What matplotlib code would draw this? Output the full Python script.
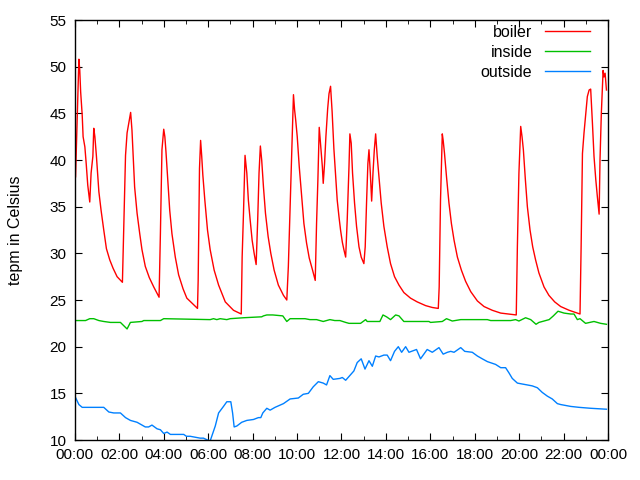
import matplotlib
matplotlib.use("Agg")
import matplotlib.pyplot as plt
from matplotlib.ticker import MultipleLocator, FuncFormatter

plt.rcParams['font.family'] = ['Liberation Sans', 'DejaVu Sans']

# hours since midnight, temperature
boiler_t = [0.03, 0.1, 0.18, 0.22, 0.26, 0.33, 0.37, 0.45, 0.51, 0.58, 0.67, 0.73, 0.81, 0.85, 0.9,
            0.97, 1.08, 1.18, 1.30, 1.42, 1.57, 1.72, 1.90, 2.14, 2.20, 2.28, 2.35, 2.44, 2.51,
            2.57, 2.62, 2.69, 2.80, 2.92, 3.02, 3.17, 3.35, 3.55, 3.79, 3.85, 3.92, 4.00, 4.05,
            4.10, 4.18, 4.27, 4.37, 4.52, 4.67, 4.87, 5.04, 5.52, 5.55, 5.61, 5.66, 5.71, 5.76,
            5.85, 5.97, 6.09, 6.27, 6.47, 6.77, 7.14, 7.49, 7.53, 7.59, 7.66, 7.74, 7.81, 7.89,
            7.98, 8.07, 8.16, 8.23, 8.29, 8.35, 8.41, 8.49, 8.58, 8.70, 8.82, 8.97, 9.16, 9.39,
            9.54, 9.61, 9.69, 9.76, 9.84, 9.89, 9.94, 10.01, 10.10, 10.21, 10.31, 10.43, 10.55,
            10.70, 10.82, 10.88, 10.94, 11.00, 11.07, 11.14, 11.18, 11.24, 11.30, 11.38, 11.44,
            11.51, 11.58, 11.66, 11.74, 11.81, 11.89, 11.96, 12.04, 12.11, 12.19, 12.26, 12.34,
            12.38, 12.44, 12.50, 12.59, 12.68, 12.79, 12.89, 13.01, 13.07, 13.13, 13.19, 13.24,
            13.30, 13.36, 13.42, 13.48, 13.54, 13.61, 13.70, 13.79, 13.91, 14.06, 14.21, 14.39,
            14.59, 14.81, 15.11, 15.41, 15.79, 16.09, 16.36, 16.40, 16.46, 16.54, 16.58, 16.64,
            16.73, 16.84, 16.95, 17.07, 17.22, 17.40, 17.59, 17.82, 18.12, 18.42, 18.79, 19.17,
            19.87, 19.92, 19.99, 20.07, 20.13, 20.19, 20.28, 20.37, 20.49, 20.61, 20.74, 20.89,
            21.12, 21.34, 21.60, 21.87, 22.25, 22.74, 22.79, 22.85, 22.92, 23.00, 23.07, 23.15,
            23.22, 23.30, 23.37, 23.45, 23.52, 23.60, 23.64, 23.70, 23.78, 23.82, 23.87, 23.93]
boiler_v = [38.2, 44.0, 50.8, 49.6, 47.3, 44.8, 42.5, 41.4, 39.6, 37.3, 35.5, 38.6, 40.4, 43.4, 42.5,
            40.4, 36.6, 34.6, 32.5, 30.5, 29.3, 28.4, 27.5, 26.9, 32.7, 40.5, 42.9, 44.1, 45.1,
            43.2, 40.7, 37.1, 34.3, 32.1, 30.4, 28.6, 27.4, 26.4, 25.3, 32.1, 41.1, 43.3, 42.5,
            40.9, 37.9, 34.6, 32.1, 29.6, 27.7, 26.2, 25.2, 24.1, 27.1, 39.1, 42.1, 40.4, 38.4,
            35.7, 32.5, 30.4, 28.2, 26.6, 24.8, 23.9, 23.5, 29.6, 34.3, 40.5, 38.6, 35.7, 33.6,
            31.4, 30.0, 28.8, 33.6, 38.6, 41.5, 40.0, 37.1, 34.3, 31.8, 30.0, 28.2, 26.6, 25.5,
            25.0, 28.6, 35.0, 40.5, 47.0, 45.4, 44.3, 42.5, 39.3, 36.1, 33.2, 31.1, 29.5,
            28.2, 27.1, 33.2, 37.9, 43.5, 41.4, 39.3, 37.5, 39.6, 42.5, 45.5, 47.1,
            47.9, 45.2, 41.2, 38.2, 35.7, 33.9, 32.5, 31.2, 30.4, 29.6, 33.6, 39.3,
            42.8, 41.8, 38.6, 35.4, 32.9, 30.7, 29.6, 28.9, 30.7, 35.4, 39.6, 41.1,
            38.6, 35.6, 38.6, 41.1, 42.8, 40.4, 37.9, 35.4, 32.9, 30.7, 28.9, 27.5,
            26.6, 25.8, 25.2, 24.8, 24.4, 24.2, 24.1, 26.4, 35.7, 42.8, 42.1, 40.7,
            38.2, 35.4, 33.2, 31.4, 29.6, 28.2, 27.0, 25.9, 24.9, 24.3, 23.9, 23.6,
            23.4, 30.7, 38.6, 43.6, 42.5, 41.1, 37.9, 35.0, 32.5, 30.7, 29.3, 27.9,
            26.4, 25.5, 24.8, 24.3, 23.9, 23.5, 30.7, 40.7, 42.9, 45.0, 46.8, 47.5,
            47.6, 43.9, 40.4, 37.9, 36.1, 34.2, 40.0, 45.0, 49.6, 48.9, 49.3, 47.5]

inside_t = [0.0, 0.48, 0.67, 0.85, 1.08, 1.30, 1.60, 2.05, 2.35, 2.50, 3.02, 3.10, 3.85, 4.00,
            6.09, 6.24, 6.39, 6.54, 6.84, 6.99, 7.59, 8.41, 8.49, 8.64, 8.91, 9.36, 9.54, 9.69,
            10.36, 10.58, 10.88, 11.18, 11.48, 11.70, 11.93,
            12.19, 12.34, 12.86, 13.09, 13.16, 13.73, 13.87, 14.03, 14.21, 14.44, 14.59, 14.81,
            15.94, 16.01, 16.54, 16.73, 16.99, 17.37, 17.82, 18.57, 18.72, 19.62, 19.84, 19.99,
            20.29, 20.52, 20.76, 20.89, 21.35, 21.54, 21.75, 22.02, 22.32, 22.47, 22.62, 22.74,
            22.99, 23.37, 23.67, 23.93]
inside_v = [22.8, 22.8, 23.0, 23.0, 22.8, 22.7, 22.6, 22.6, 21.9, 22.6, 22.7, 22.8, 22.8, 23.0,
            22.9, 23.0, 22.9, 23.0, 22.9, 23.0, 23.1, 23.2, 23.3, 23.4, 23.4, 23.3, 22.7, 23.0,
            23.0, 22.9, 22.9, 22.7, 22.9, 22.8, 22.8,
            22.6, 22.5, 22.5, 22.9, 22.7, 22.7, 23.4, 23.2, 22.9, 23.4, 23.3, 22.7,
            22.7, 22.6, 22.7, 23.0, 22.75, 22.9, 22.9, 22.9, 22.8, 22.8, 22.9, 22.75,
            23.1, 22.9, 22.4, 22.6, 22.9, 23.3, 23.8, 23.6, 23.5, 23.5, 22.9, 23.0,
            22.5, 22.7, 22.5, 22.4]

outside_t = [0.0, 0.18, 0.33, 1.30, 1.53, 1.75, 2.05, 2.28, 2.50, 2.80, 3.17, 3.32, 3.47, 3.70,
             3.85, 4.00, 4.15, 4.30, 4.45, 4.90, 5.02, 5.19, 5.64, 5.79, 5.97, 6.09, 6.32, 6.47,
             6.69, 6.84, 7.02, 7.10, 7.17, 7.29, 7.51, 7.74, 8.04, 8.26, 8.37, 8.46, 8.64, 8.79,
             9.01, 9.39, 9.69, 10.06, 10.28, 10.51, 10.73, 10.96, 11.18, 11.33, 11.48, 11.63,
             11.93, 12.04, 12.19, 12.56, 12.71, 12.89, 13.06, 13.24, 13.39, 13.54, 13.69, 13.91,
             14.06, 14.21, 14.39, 14.56, 14.71, 14.89, 15.04, 15.38, 15.56, 15.86, 16.09, 16.39,
             16.58, 16.77, 16.92, 17.07, 17.37, 17.55, 17.89, 18.12, 18.34, 18.57, 18.94, 19.17,
             19.39, 19.54, 19.69, 19.92, 20.14, 20.37, 20.59, 20.82, 21.04, 21.27, 21.49, 21.72,
             21.87, 22.32, 22.70, 23.22, 23.93]
outside_v = [14.7, 13.8, 13.5, 13.5, 13.0, 12.9, 12.9, 12.4, 12.1, 11.9, 11.4, 11.4, 11.6, 11.2,
             11.1, 10.7, 10.85, 10.6, 10.6, 10.6, 10.4, 10.4, 10.2, 10.2, 10.0, 9.9, 11.5, 12.9,
             13.6, 14.1, 14.1, 12.9, 11.4, 11.5, 11.9, 12.1, 12.2, 12.4, 12.4, 12.9, 13.4, 13.2,
             13.5, 13.9, 14.4, 14.5, 14.9, 15.0, 15.7, 16.25, 16.1, 15.9, 16.9, 16.5,
             16.6, 16.7, 16.4, 17.4, 18.3, 18.7, 17.6, 18.5, 17.9, 19.0, 18.9, 19.1,
             19.1, 18.5, 19.5, 20.0, 19.4, 20.0, 19.4, 19.7, 18.7, 19.7, 19.4, 19.9,
             19.2, 19.4, 19.5, 19.4, 19.9, 19.5, 19.4, 19.0, 18.7, 18.4, 18.1, 17.75,
             17.75, 17.2, 16.6, 16.1, 16.0, 15.9, 15.8, 15.6, 15.1, 14.7, 14.4, 13.9,
             13.8, 13.6, 13.5, 13.4, 13.3]

fig = plt.figure(figsize=(6.4, 4.8), dpi=100)
ax = fig.add_axes([0.117, 0.0833, 0.833, 0.875])

ax.plot(boiler_t, boiler_v, color='#ff0000', lw=1, label='boiler')
ax.plot(inside_t, inside_v, color='#00c000', lw=1, label='inside')
ax.plot(outside_t, outside_v, color='#0080ff', lw=1, label='outside')

ax.set_xlim(0, 24)
ax.set_ylim(10, 55)
ax.xaxis.set_major_locator(MultipleLocator(2))
ax.xaxis.set_minor_locator(MultipleLocator(1))
ax.xaxis.set_major_formatter(FuncFormatter(lambda v, p: "%02d:00" % (int(round(v)) % 24)))
ax.yaxis.set_major_locator(MultipleLocator(5))
ax.tick_params(which='both', direction='in', top=True, right=True, labelsize=11,
               colors='black', pad=6)
ax.tick_params(which='major', length=5)
ax.tick_params(which='minor', length=3)
for s in ax.spines.values():
    s.set_linewidth(1)

ax.set_ylabel('tepm in Celsius', fontsize=11.5, labelpad=19)

ax.legend(loc='upper right', bbox_to_anchor=(0.975, 1.0), frameon=False, markerfirst=False,
          fontsize=11.5, handlelength=2.8, labelspacing=0.32, borderaxespad=0.0,
          borderpad=0.3, handletextpad=0.8)

fig.savefig('out.png', dpi=100)
